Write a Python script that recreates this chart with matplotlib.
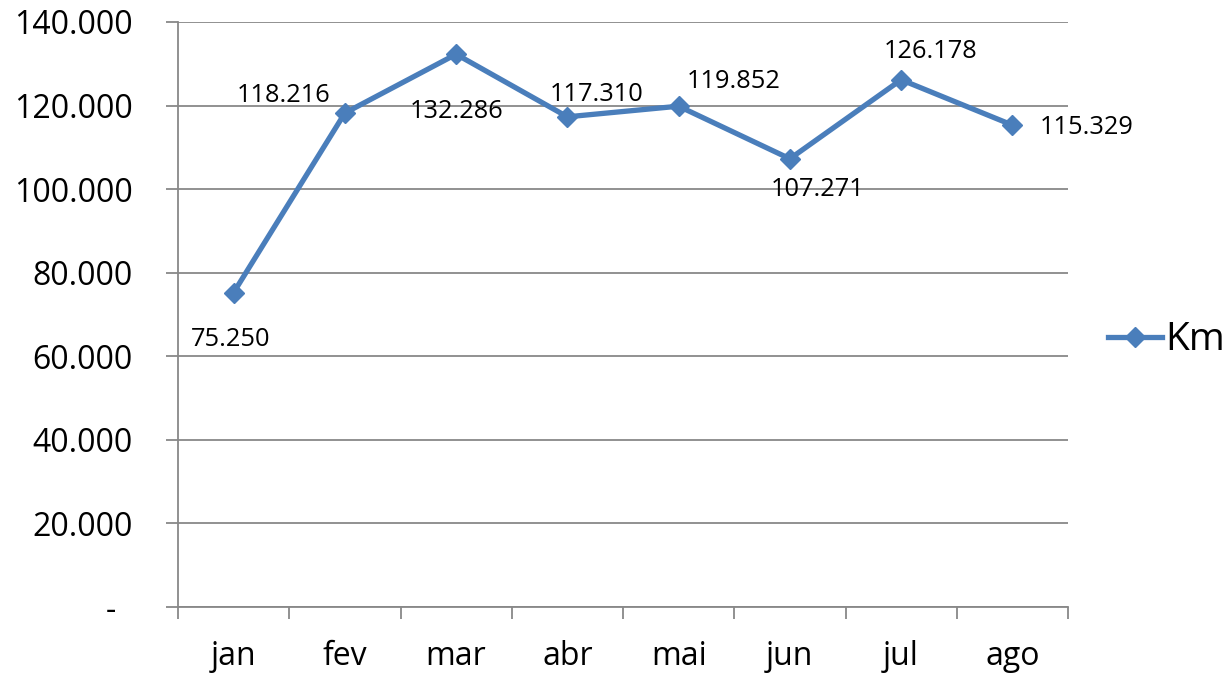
import matplotlib.pyplot as plt
from matplotlib.ticker import FuncFormatter, FixedLocator

months = ['jan', 'fev', 'mar', 'abr', 'mai', 'jun', 'jul', 'ago']
km = [75250, 118216, 132286, 117310, 119852, 107271, 126178, 115329]
label_text = ['75.250', '118.216', '132.286', '117.310', '119.852', '107.271', '126.178', '115.329']
# label offsets in pixels (dx, dy) relative to the point, like the excel layout
label_offsets = [(-3, -47), (-61, 18), (1, -57), (29, 22), (55, 25), (28, -31), (30, 28), (74, -2)]

plt.rcParams['font.family'] = ['Open Sans', 'DejaVu Sans']

BLUE = '#4A7EBB'
GRID = '#888888'

fig = plt.figure(figsize=(12.32, 6.76), dpi=100)
ax = fig.add_axes([178 / 1232, 1 - 607 / 676, (1068 - 178) / 1232, (607 - 22) / 676])

x = list(range(len(months)))
ax.plot(x, km, color=BLUE, lw=3.8, marker='D', markersize=10, label='Km',
        solid_joinstyle='round', zorder=3)

for xi, yi, txt, (dx, dy) in zip(x, km, label_text, label_offsets):
    ax.annotate(txt, (xi, yi), xytext=(dx * 0.72, dy * 0.72), textcoords='offset points',
                ha='center', va='center', fontsize=18.3, color='black')

ax.set_xlim(-0.5, 7.5)
ax.set_ylim(0, 140000)

def fmt(v, pos):
    if v == 0:
        return '-  '
    return f'{int(v):,}'.replace(',', '.')

ax.yaxis.set_major_locator(FixedLocator(range(0, 140001, 20000)))
ax.yaxis.set_major_formatter(FuncFormatter(fmt))
ax.grid(axis='y', color=GRID, lw=1.3)
ax.set_axisbelow(True)

ax.xaxis.set_major_locator(FixedLocator([i - 0.5 for i in range(len(months) + 1)]))
ax.xaxis.set_major_formatter(FuncFormatter(lambda v, p: ''))
ax.xaxis.set_minor_locator(FixedLocator(x))
ax.set_xticklabels(months, minor=True)

ax.tick_params(axis='y', length=8.6, width=1.3, color=GRID, pad=24, labelsize=23)
ax.tick_params(axis='x', which='major', length=8.6, width=1.3, color=GRID)
ax.tick_params(axis='x', which='minor', length=0, pad=24, labelsize=23)

for s in ['top', 'right']:
    ax.spines[s].set_visible(False)
for s in ['left', 'bottom']:
    ax.spines[s].set_color(GRID)
    ax.spines[s].set_linewidth(1.3)

ax.legend(loc='center left', bbox_to_anchor=(1.045, 0.456), frameon=False,
          fontsize=28, handlelength=1.4, handletextpad=0.08, borderaxespad=0,
          borderpad=0)

fig.savefig('out.png', dpi=100)
